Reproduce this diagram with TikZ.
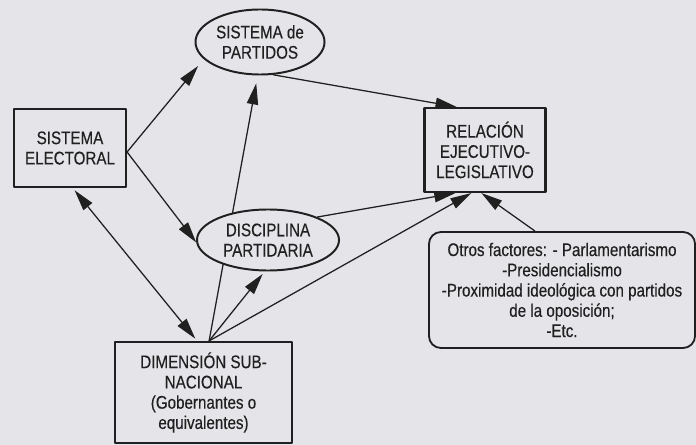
\documentclass[tikz,border=0pt]{standalone}
\usepackage{fontspec}
\setmainfont{Liberation Sans}[FakeStretch=0.83, FakeBold=0.35]
\usetikzlibrary{arrows.meta}
\usetikzlibrary{shapes.geometric}
\usetikzlibrary{backgrounds}
\definecolor{papel}{RGB}{229,229,233}
\definecolor{tinta}{RGB}{32,32,32}

\begin{document}
\begin{tikzpicture}[x=0.025cm, y=-0.025cm, % one unit = one pixel of the scan, y runs downwards
                    line join=round, line cap=round,
                    >={Triangle[length=15pt,width=8pt]},
                    every node/.style = {align=center, inner sep=1pt, text=tinta,
                                         font=\fontsize{13}{14.4}\selectfont},
                    caja/.style = {rectangle, draw=tinta, line width=1.5pt, fill=papel},
                    ovalo/.style = {ellipse, draw=tinta, line width=1.4pt, fill=papel},
                    flecha/.style = {->, draw=tinta, line width=0.9pt}
                   ]
  \useasboundingbox (0,0) rectangle (696,445);
  \begin{scope}[on background layer]
    \fill[papel] (0,0) rectangle (696,445);
  \end{scope}

  \node[caja, minimum width=2.8cm, minimum height=1.95cm] (electoral) at (70,148) {SISTEMA\\ELECTORAL};
  \node[ovalo, minimum width=3.225cm, minimum height=1.625cm] (partidos) at (260,42) {SISTEMA de\\PARTIDOS};
  \node[caja, minimum width=3.025cm, minimum height=2.1cm] (relacion) at (485,150) {RELACIÓN\\EJECUTIVO-\\LEGISLATIVO};
  \node[ovalo, minimum width=3.55cm, minimum height=1.525cm] (disciplina) at (268,240) {DISCIPLINA\\PARTIDARIA};
  \node[caja, minimum width=4.425cm, minimum height=2.525cm] (dimension) at (203.5,392.5)
       {DIMENSIÓN SUB-\\NACIONAL\\(Gobernantes o\\equivalentes)};
  \node[caja, line width=1.3pt, rounded corners=0.3cm, minimum width=6.65cm, minimum height=2.9cm] (otros) at (562,290)
       {Otros factores: - Parlamentarismo\\-Presidencialismo\\-Proximidad ideológica con partidos\\de la oposición;\\-Etc.};

  % connectors go under the nodes
  \begin{scope}[on background layer]
    \draw[flecha, shorten >=0.22cm] ([yshift=-0.1cm]electoral.east) -- (partidos.197);
    \draw[flecha] ([yshift=-0.1cm]electoral.east) -- (disciplina.182);
    \draw[<->, draw=tinta, line width=0.9pt, shorten <=2pt, shorten >=2pt]
         ([xshift=0.07cm]electoral.south) -- ([xshift=-0.16cm]dimension.north);
    \draw[flecha, shorten >=0.2cm] ([xshift=0.14cm]dimension.north) -- (partidos.266);
    \draw[flecha, shorten >=0.08cm] ([xshift=0.14cm]dimension.north) -- (disciplina.264);
    \draw[flecha] ([xshift=0.14cm]dimension.north) -- ([xshift=-0.34cm]relacion.south);
    \draw[flecha] (disciplina.25) -- ([xshift=-0.74cm]relacion.south);
    \draw[flecha] (partidos.292) -- ([xshift=-0.71cm]relacion.north);
    \draw[flecha] ([xshift=-0.675cm]otros.north) -- ([xshift=-0.09cm]relacion.south);
  \end{scope}
\end{tikzpicture}
\end{document}
